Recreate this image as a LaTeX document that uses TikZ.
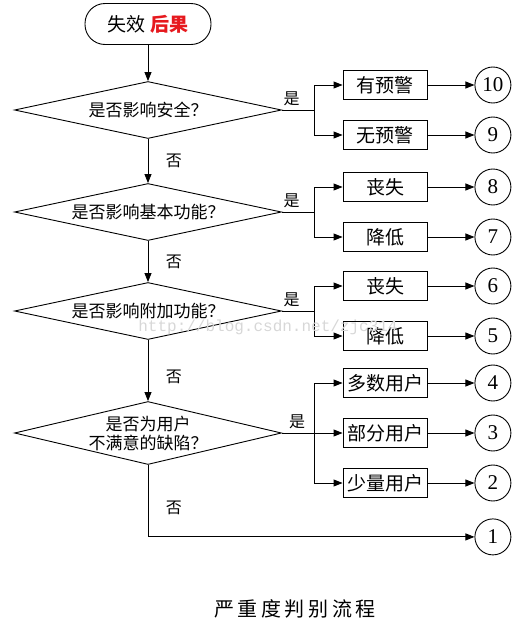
\documentclass[tikz,border=0pt]{standalone}
\usepackage{fontspec}
\setmainfont{Liberation Serif}
\setmonofont{Liberation Mono}
\newfontfamily\cjk{Noto Sans CJK SC}
\newfontfamily\titlecjk{Noto Sans CJK SC}[LetterSpace=18]
\usetikzlibrary{arrows.meta,positioning,shapes.geometric}
\definecolor{resultred}{RGB}{230,25,30}
\definecolor{markgray}{RGB}{215,215,215}

\begin{document}
\begin{tikzpicture}[
    x=1pt,y=-1pt,
    terminal/.style={rectangle,rounded corners=20pt,draw,line width=0.9pt,
      minimum width=126pt,minimum height=41pt,font=\cjk\fontsize{19}{20}\selectfont},
    decision/.style={diamond,draw,line width=0.9pt,aspect=4.6,inner sep=-6pt,
      minimum width=267pt,minimum height=57pt,align=center,
      font=\cjk\fontsize{17}{19}\selectfont},
    effect/.style={rectangle,draw,line width=0.9pt,minimum width=84pt,
      minimum height=29pt,inner sep=0pt,font=\cjk\fontsize{19}{20}\selectfont},
    grade/.style={circle,draw,line width=0.9pt,minimum size=36pt,inner sep=0pt,
      font=\fontsize{21}{21}\selectfont},
    answer/.style={font=\cjk\fontsize{16}{16}\selectfont},
    arrow/.style={-{Triangle[length=9pt,width=7pt]},line width=0.9pt}
  ]
    \useasboundingbox (0,0) rectangle (521,635);

    \node[terminal] (start) at (148,24) {失效 {\bfseries\color{resultred}后果}};
    \node[decision] (q1) at (148,110) {是否影响安全？};
    \node[decision] (q2) at (148,212) {是否影响基本功能？};
    \node[decision] (q3) at (148,311) {是否影响附加功能？};
    \node[decision,minimum height=63pt,aspect=4.2] (q4) at (148,433) {是否为用户\\不满意的缺陷？};

    \coordinate (b1) at ([xshift=32pt]q1.east);
    \coordinate (b2) at ([xshift=32pt]q2.east);
    \coordinate (b3) at ([xshift=32pt]q3.east);
    \coordinate (b4) at ([xshift=32pt]q4.east);

    \node[effect] (e10) at (385,85) {有预警};
    \node[effect] (e9) at (385,135) {无预警};
    \node[effect] (e8) at (385,187) {丧失};
    \node[effect] (e7) at (385,237) {降低};
    \node[effect] (e6) at (385,286) {丧失};
    \node[effect] (e5) at (385,336) {降低};
    \node[effect] (e4) at (385,383) {多数用户};
    \node[effect] (e3) at (385,433) {部分用户};
    \node[effect] (e2) at (385,483) {少量用户};

    \node[grade,right=47pt of e10] (g10) {10};
    \node[grade,right=47pt of e9] (g9) {9};
    \node[grade,right=47pt of e8] (g8) {8};
    \node[grade,right=47pt of e7] (g7) {7};
    \node[grade,right=47pt of e6] (g6) {6};
    \node[grade,right=47pt of e5] (g5) {5};
    \node[grade,right=47pt of e4] (g4) {4};
    \node[grade,right=47pt of e3] (g3) {3};
    \node[grade,right=47pt of e2] (g2) {2};
    \node[grade,below=17pt of g2] (g1) {1};

    % main column
    \draw[arrow] (start) -- (q1);
    \draw[arrow] (q1) -- node[answer,right=14pt] {否} (q2);
    \draw[arrow] (q2) -- node[answer,right=14pt] {否} (q3);
    \draw[arrow] (q3) -- node[answer,right=14pt,pos=0.6] {否} (q4);
    \draw[arrow] (q4) |- node[answer,right=14pt,pos=0.3] {否} (g1);

    % yes branches
    \draw[line width=0.9pt] (q1.east) -- node[answer,above,pos=0.3] {是} (b1);
    \draw[arrow] (b1) |- (e10);
    \draw[arrow] (b1) |- (e9);
    \draw[line width=0.9pt] (q2.east) -- node[answer,above,pos=0.3] {是} (b2);
    \draw[arrow] (b2) |- (e8);
    \draw[arrow] (b2) |- (e7);
    \draw[line width=0.9pt] (q3.east) -- node[answer,above,pos=0.3] {是} (b3);
    \draw[arrow] (b3) |- (e6);
    \draw[arrow] (b3) |- (e5);
    \draw[arrow] (q4.east) -- node[answer,above,pos=0.25] {是} (e3);
    \draw[arrow] (b4) |- (e4);
    \draw[arrow] (b4) |- (e2);

    % to the grades
    \foreach \i in {10,9,...,2}
      \draw[arrow] (e\i) -- (g\i);

    \node[font=\ttfamily\fontsize{16}{16}\selectfont,text=markgray] (mark) at (268,327) {http://blog.csdn.net/zjc314};
    \node[font=\titlecjk\fontsize{20}{20}\selectfont] (title) at (295,609) {严重度判别流程};
  \end{tikzpicture}
\end{document}
